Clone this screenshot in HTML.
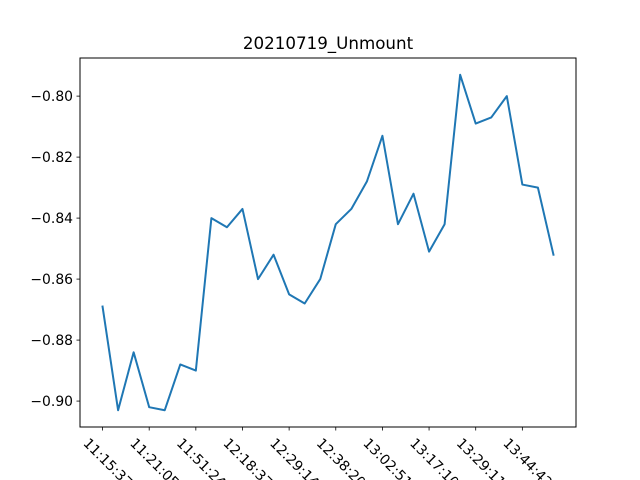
<!DOCTYPE html>
<html><head><meta charset="utf-8"><style>
body{margin:0;background:#fff}
svg{display:block;font-family:"DejaVu Sans","Liberation Sans",sans-serif}
</style></head><body>
<svg id="chart" width="640" height="480" viewBox="0 0 640 480">
<rect width="640" height="480" fill="#fff"/>
<text x="328" y="49" font-size="16.7" text-anchor="middle">20210719_Unmount</text>
<rect x="80" y="58" width="496" height="369" fill="none" stroke="#000" stroke-width="1"/>
</svg>
<script>
const values = [-0.869,-0.903,-0.884,-0.902,-0.903,-0.888,-0.890,-0.840,-0.843,-0.837,-0.860,-0.852,-0.865,-0.868,-0.860,-0.842,-0.837,-0.828,-0.813,-0.842,-0.832,-0.851,-0.842,-0.793,-0.809,-0.807,-0.800,-0.829,-0.830,-0.852];
const xTickIdx = [0,3,6,9,12,15,18,21,24,27];
const xTickLabels = ["11:15:37","11:21:05","11:51:24","12:18:37","12:29:14","12:38:20","13:02:51","13:17:10","13:29:11","13:44:42"];
const yTicks = [-0.90,-0.88,-0.86,-0.84,-0.82,-0.80];

const svg = document.getElementById('chart');
const NS = 'http://www.w3.org/2000/svg';
const L=80,R=576,T=58,B=427;
const n = values.length;
const xmin=-0.05*(n-1), xmax=(n-1)*1.05;
const vmin=Math.min(...values), vmax=Math.max(...values), pad=(vmax-vmin)*0.05;
const ymin=vmin-pad, ymax=vmax+pad;
const xs=i=>L+(i-xmin)/(xmax-xmin)*(R-L);
const ys=v=>B-(v-ymin)/(ymax-ymin)*(B-T);
function mk(tag,attrs){const e=document.createElementNS(NS,tag);for(const k in attrs)e.setAttribute(k,attrs[k]);svg.appendChild(e);return e;}

yTicks.forEach(v=>{
  const y=ys(v);
  const t=mk('line',{x1:L-3.5,x2:L,y1:y,y2:y,stroke:'#000','stroke-width':0.8});
  
  
  const tx=mk('text',{x:L-7,y:y+5,'font-size':13.9,'text-anchor':'end'});
  tx.textContent='\u2212'+Math.abs(v).toFixed(2);
  
  
});
xTickIdx.forEach((idx,k)=>{
  const x=xs(idx);
  const t=mk('line',{x1:x,x2:x,y1:B,y2:B+3.5,stroke:'#000','stroke-width':0.8});
  
  
  const px=x-20, py=444;
  const tx=mk('text',{x:px,y:py,'font-size':13.9,transform:`rotate(45 ${px} ${py})`});
  tx.textContent=xTickLabels[k];
  
  
});
const line=mk('polyline',{points:values.map((v,i)=>xs(i).toFixed(2)+','+ys(v).toFixed(2)).join(' '),fill:'none',stroke:'#1f77b4','stroke-width':2,'stroke-linejoin':'round','stroke-linecap':'square'});


</script>
</body></html>
